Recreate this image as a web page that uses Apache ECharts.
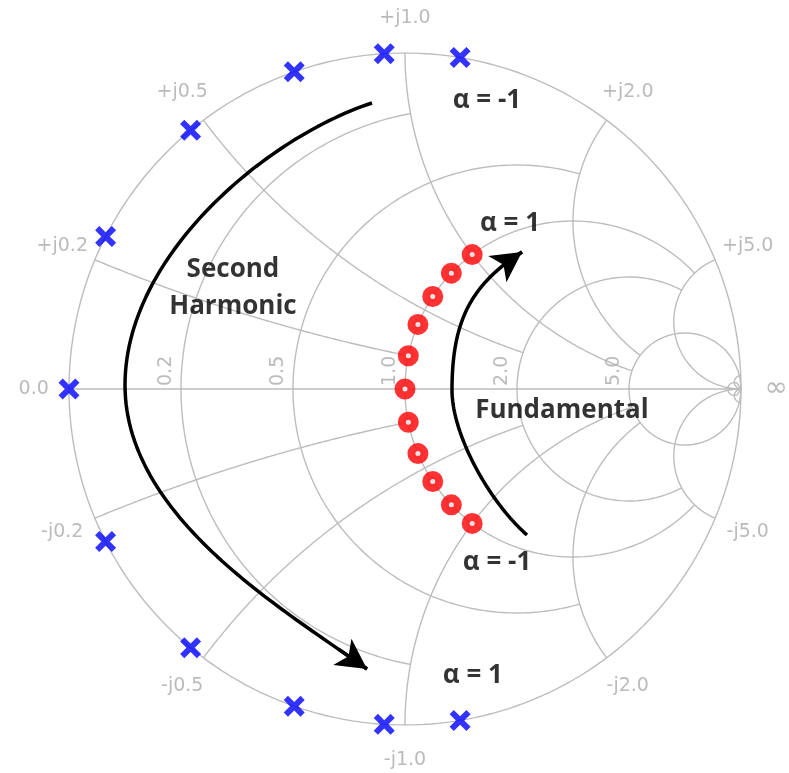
<!DOCTYPE html>
<html>
<head>
<meta charset="utf-8">
<script src="https://cdn.jsdelivr.net/npm/echarts@6/dist/echarts.min.js"></script>
<style>
  html, body { margin: 0; padding: 0; background: #ffffff; }
  #chart { width: 789px; height: 773px; }
</style>
</head>
<body>
<div id="chart"></div>
<script>
// Normalised load impedances z = r + jx along the continuum, alpha = -1 ... 1
const alpha = [-1, -0.8, -0.6, -0.4, -0.2, 0, 0.2, 0.4, 0.6, 0.8, 1];
const fundamentalR = [1, 1, 1, 1, 1, 1, 1, 1, 1, 1, 1];
const fundamentalX = [-1, -0.8, -0.6, -0.4, -0.2, 0, 0.2, 0.4, 0.6, 0.8, 1];
const harmonicR = [0, 0, 0, 0, 0, 0, 0, 0, 0, 0, 0];
const harmonicX = [1.18, 0.94, 0.71, 0.47, 0.24, 0, -0.24, -0.47, -0.71, -0.94, -1.18];

// Smith chart grid: constant-resistance circles and constant-reactance arcs
const gridResistance = [0, 0.2, 0.5, 1, 2, 5, 50];
const gridReactance = [0.2, 0.5, 1, 2, 5, 50];
// how far each contour runs before it is cut off
const resistanceReach = { 0: Infinity, 0.2: 1, 0.5: 2, 1: 5, 2: 5, 5: Infinity, 50: Infinity };
const reactanceReach = { 0.2: 1, 0.5: 2, 1: 5, 2: 5, 5: Infinity, 50: Infinity };

// tick labels
const resistanceTicks = [0.2, 0.5, 1, 2, 5];
const resistanceTickText = ['0.2', '0.5', '1.0', '2.0', '5.0'];
const reactanceTicks = [0.2, 0.5, 1, 2, 5, -0.2, -0.5, -1, -2, -5];
const reactanceTickText = ['+j0.2', '+j0.5', '+j1.0', '+j2.0', '+j5.0', '-j0.2', '-j0.5', '-j1.0', '-j2.0', '-j5.0'];

// Reflection coefficient for a normalised impedance
function gamma(r, x) {
  if (!isFinite(r) || !isFinite(x)) return [1, 0];
  const den = (r + 1) * (r + 1) + x * x;
  return [(r * r + x * x - 1) / den, (2 * x) / den];
}

const N = 240;
const EDGE = Math.PI / 2 - 1e-5;
const gridPaths = [];
gridResistance.forEach(function (r) {
  const lim = resistanceReach[r];
  const s0 = isFinite(lim) ? Math.atan(lim) : EDGE;
  const pts = [];
  if (!isFinite(lim)) pts.push([1, 0]);
  for (let i = 0; i <= N; i++) {
    const s = -s0 + (2 * s0 * i) / N;
    pts.push(gamma(r, Math.tan(s)));
  }
  if (!isFinite(lim)) pts.push([1, 0]);
  gridPaths.push({ coords: pts });
});
gridReactance.forEach(function (x) {
  const lim = reactanceReach[x];
  const s1 = isFinite(lim) ? Math.atan(lim) : EDGE;
  [x, -x].forEach(function (xx) {
    const pts = [];
    for (let i = 0; i <= N; i++) {
      const s = (s1 * i) / N;
      pts.push(gamma(Math.tan(s), xx));
    }
    if (!isFinite(lim)) pts.push([1, 0]);
    gridPaths.push({ coords: pts });
  });
});
// real axis
gridPaths.push({ coords: [[-1, 0], [1, 0]] });

// tick label placement (just outside the rim / beside each circle on the real axis)
const RIM = 1.105;
const tickLabels = [];
reactanceTicks.forEach(function (x, i) {
  const g = gamma(0, x);
  tickLabels.push({ value: [g[0] * RIM, g[1] * RIM], name: reactanceTickText[i] });
});
tickLabels.push({ value: [-RIM, 0], name: '0.0' });
tickLabels.push({ value: [RIM, 0], name: '\u221E', label: { fontSize: 28 } });
resistanceTicks.forEach(function (r, i) {
  const g = gamma(r, 0);
  tickLabels.push({ value: [g[0] - 0.045, 0.054], name: resistanceTickText[i], label: { rotate: 90 } });
});

const fundamentalPts = alpha.map(function (a, i) {
  return { value: gamma(fundamentalR[i], fundamentalX[i]), name: 'α = ' + a };
});
const harmonicPts = alpha.map(function (a, i) {
  return { value: gamma(harmonicR[i], harmonicX[i]), name: 'α = ' + a };
});

// Sweep arrows: each is two cubic Bezier pieces given by control points
// in reflection-coefficient coordinates.
const harmonicArrowPieces = [
  [[-0.0982, 0.8512], [-0.4092, 0.7500], [-0.8333, 0.3988], [-0.8333, 0.0119]],
  [[-0.8333, 0.0119], [-0.8333, -0.3750], [-0.3810, -0.6443], [-0.1131, -0.8333]]
];
const fundamentalArrowPieces = [
  [[0.3631, -0.4345], [0.2515, -0.3363], [0.1399, -0.1369], [0.1399, -0.0030]],
  [[0.1399, -0.0030], [0.1399, 0.2054], [0.1982, 0.3113], [0.3482, 0.4077]]
];

function bezierPoint(p, t) {
  const m = 1 - t;
  const a = m * m * m, b = 3 * m * m * t, c = 3 * m * t * t, d = t * t * t;
  return [a * p[0][0] + b * p[1][0] + c * p[2][0] + d * p[3][0],
          a * p[0][1] + b * p[1][1] + c * p[2][1] + d * p[3][1]];
}
function tracePieces(pieces) {
  const out = [];
  pieces.forEach(function (p, k) {
    for (let i = (k === 0 ? 0 : 1); i <= 60; i++) out.push(bezierPoint(p, i / 60));
  });
  return out;
}

// annotations
const notes = [
  { value: [0.244, 0.857], name: 'α = -1' },
  { value: [0.3125, 0.491], name: 'α = 1' },
  { value: [0.274, -0.518], name: 'α = -1' },
  { value: [0.202, -0.854], name: 'α = 1' },
  { value: [-0.512, 0.301], name: 'Second\nHarmonic' },
  { value: [0.467, -0.065], name: 'Fundamental' }
];

const crossPath = 'path://M2,0 L5,3 L8,0 L10,2 L7,5 L10,8 L8,10 L5,7 L2,10 L0,8 L3,5 L0,2 Z';

function sweepSeries(pieces, z) {
  const path = tracePieces(pieces);
  const last = pieces[pieces.length - 1];
  const tail = bezierPoint(last, 0.9);
  const tip = last[3];
  return {
    type: 'line',
    data: path,
    showSymbol: false,
    symbol: 'none',
    clip: false,
    silent: true,
    z: z,
    lineStyle: { color: '#000000', width: 3.5 },
    markLine: {
      silent: true,
      symbol: ['none', 'arrow'],
      symbolSize: [24, 30],
      label: { show: false },
      lineStyle: { color: '#000000', width: 3.5, type: 'solid' },
      emphasis: { disabled: true },
      data: [[{ coord: tail }, { coord: tip }]]
    }
  };
}

const chart = echarts.init(document.getElementById('chart'), null, { renderer: 'canvas' });
chart.setOption({
  animation: false,
  backgroundColor: '#ffffff',
  grid: { left: 69, top: 53, width: 672, height: 672 },
  xAxis: { type: 'value', min: -1, max: 1, show: false },
  yAxis: { type: 'value', min: -1, max: 1, show: false },
  series: [
    {
      type: 'lines',
      coordinateSystem: 'cartesian2d',
      polyline: true,
      silent: true,
      z: 1,
      lineStyle: { color: '#bdbdbd', width: 1.4, opacity: 1 },
      data: gridPaths
    },
    {
      type: 'scatter',
      data: tickLabels,
      symbolSize: 0,
      clip: false,
      silent: true,
      z: 2,
      label: {
        show: true,
        position: 'inside',
        formatter: '{b}',
        color: '#aaaaaa',
        fontFamily: 'DejaVu Sans',
        fontSize: 19
      }
    },
    sweepSeries(harmonicArrowPieces, 3),
    sweepSeries(fundamentalArrowPieces, 3),
    {
      type: 'scatter',
      data: fundamentalPts,
      symbol: 'circle',
      symbolSize: 13,
      clip: false,
      z: 4,
      itemStyle: { color: '#e6e6e6', borderColor: '#ff0000', borderWidth: 8 }
    },
    {
      type: 'scatter',
      data: harmonicPts,
      symbol: crossPath,
      symbolSize: 21,
      clip: false,
      z: 5,
      itemStyle: { color: '#0000ff' }
    },
    {
      type: 'scatter',
      data: notes,
      symbolSize: 0,
      clip: false,
      silent: true,
      z: 6,
      label: {
        show: true,
        position: 'inside',
        formatter: '{b}',
        color: '#000000',
        fontFamily: 'Open Sans',
        fontWeight: 'bold',
        fontSize: 26,
        lineHeight: 37,
        align: 'center'
      }
    }
  ]
});
</script>
</body>
</html>
